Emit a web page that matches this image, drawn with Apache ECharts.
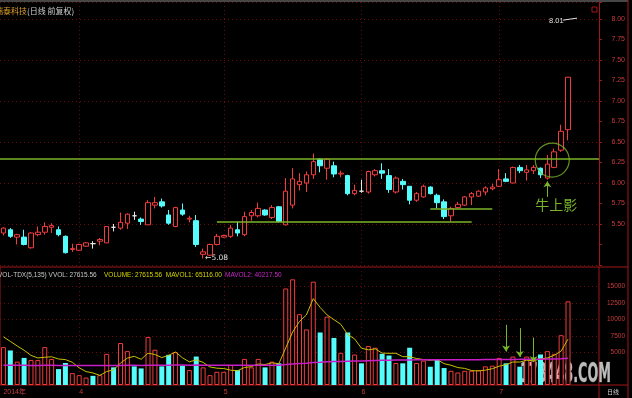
<!DOCTYPE html>
<html>
<head>
<meta charset="utf-8">
<script src="https://cdn.jsdelivr.net/npm/echarts@6/dist/echarts.min.js"></script>
<style>
  html, body { margin: 0; padding: 0; background: #000; }
  #chart { width: 632px; height: 398px; }
</style>
</head>
<body>
<div id="chart"></div>
<script>
// trading days, 2014-03-17 .. 2014-07-15
const marchDays = [17, 18, 19, 20, 21, 24, 25, 26, 27, 28, 31];
const aprilDays = [1, 2, 3, 4, 8, 9, 10, 11, 14, 15, 16, 17, 18, 21, 22, 23, 24, 25, 28, 29, 30];
const mayDays = [5, 6, 7, 8, 9, 12, 13, 14, 15, 16, 19, 20, 21, 22, 23, 26, 27, 28, 29, 30];
const juneDays = [3, 4, 5, 6, 9, 10, 11, 12, 13, 16, 17, 18, 19, 20, 23, 24, 25, 26, 27, 30];
const julyDays = [1, 2, 3, 4, 7, 8, 9, 10, 11, 14, 15];

const monthTicks = ["2014-03-17", "2014-04-01", "2014-05-05", "2014-06-03", "2014-07-01"];
const monthLabels = ["2014年", "4", "5", "6", "7"];

const opens = [
  5.39, 5.43, 5.34, 5.34, 5.21, 5.37, 5.40, 5.46, 5.43, 5.35,
  5.19, 5.18, 5.23, 5.26, 5.29, 5.27, 5.46, 5.45, 5.51, 5.60,
  5.56, 5.49, 5.73, 5.77, 5.61, 5.47, 5.67, 5.56, 5.54, 5.13,
  5.12, 5.25, 5.34, 5.35, 5.43, 5.37, 5.60, 5.60, 5.67, 5.58,
  5.71, 5.49, 5.73, 5.98, 6.00, 6.10, 6.29, 6.18, 6.21, 6.11,
  6.09, 5.87, 5.90, 5.89, 6.10, 6.15, 6.09, 5.89, 6.02, 5.96,
  5.79, 5.83, 5.95, 5.85, 5.77, 5.60, 5.70, 5.73, 5.83, 5.84,
  5.89, 5.93, 5.96, 6.05, 6.00, 6.19, 6.13, 6.15, 6.18, 6.06,
  6.19, 6.40, 6.65
];
const closes = [
  5.45, 5.35, 5.37, 5.25, 5.39, 5.40, 5.47, 5.48, 5.37, 5.15,
  5.20, 5.25, 5.27, 5.26, 5.31, 5.47, 5.46, 5.52, 5.62, 5.60,
  5.53, 5.76, 5.76, 5.72, 5.51, 5.70, 5.62, 5.57, 5.25, 5.16,
  5.25, 5.35, 5.36, 5.45, 5.39, 5.59, 5.64, 5.69, 5.61, 5.70,
  5.53, 5.90, 6.05, 6.02, 6.10, 6.26, 6.21, 6.29, 6.11, 6.12,
  5.87, 5.91, 5.90, 6.14, 6.15, 6.12, 5.92, 6.06, 5.98, 5.79,
  5.87, 5.96, 5.87, 5.76, 5.59, 5.69, 5.74, 5.83, 5.87, 5.90,
  5.94, 5.95, 6.04, 6.02, 6.19, 6.15, 6.16, 6.19, 6.10, 6.23,
  6.38, 6.63, 7.29
];
const lows = [
  5.36, 5.33, 5.25, 5.24, 5.20, 5.35, 5.37, 5.39, 5.35, 5.14,
  5.16, 5.17, 5.22, 5.20, 5.24, 5.27, 5.41, 5.43, 5.44, 5.55,
  5.49, 5.49, 5.69, 5.70, 5.49, 5.46, 5.60, 5.52, 5.22, 5.08,
  5.11, 5.24, 5.33, 5.33, 5.35, 5.35, 5.54, 5.58, 5.60, 5.56,
  5.52, 5.48, 5.69, 5.91, 5.89, 6.05, 6.13, 6.04, 6.07, 6.07,
  5.85, 5.85, 5.88, 5.87, 6.08, 6.05, 5.88, 5.87, 5.92, 5.74,
  5.77, 5.82, 5.86, 5.69, 5.56, 5.53, 5.69, 5.72, 5.73, 5.83,
  5.85, 5.91, 5.95, 6.01, 6.00, 6.12, 6.03, 6.11, 6.06, 6.04,
  6.18, 6.38, 6.52
];
const highs = [
  5.46, 5.45, 5.38, 5.43, 5.40, 5.47, 5.52, 5.51, 5.47, 5.36,
  5.26, 5.26, 5.28, 5.29, 5.33, 5.47, 5.50, 5.64, 5.63, 5.65,
  5.58, 5.79, 5.83, 5.81, 5.67, 5.71, 5.75, 5.60, 5.61, 5.20,
  5.26, 5.38, 5.37, 5.49, 5.53, 5.65, 5.67, 5.76, 5.68, 5.73,
  5.72, 6.06, 6.18, 6.12, 6.14, 6.36, 6.30, 6.30, 6.26, 6.15,
  6.10, 5.98, 6.04, 6.15, 6.17, 6.24, 6.17, 6.08, 6.05, 5.96,
  5.89, 5.98, 5.96, 5.87, 5.80, 5.71, 5.77, 5.84, 5.89, 5.91,
  5.96, 5.99, 6.17, 6.12, 6.20, 6.22, 6.22, 6.22, 6.19, 6.34,
  6.42, 6.71, 7.29
];
const volumes = [
  5780, 5270, 3565, 4135, 3825, 3825, 5780, 3980, 2430, 3360,
  1810, 1500, 1135, 1395, 1500, 4755, 2690, 6400, 5165, 2840,
  2530, 7330, 5375, 2840, 4600, 5010, 2945, 2275, 4340, 2690,
  1500, 2015, 2015, 3050, 2275, 3980, 2690, 3980, 2690, 3565,
  3305, 14725, 16120, 10800, 8475, 15760, 8010, 10430, 7180, 4910,
  8010, 4650, 3305, 5940, 5685, 4755, 4495, 3360, 3305, 5685,
  3360, 3720, 2790, 3825, 2585, 2170, 1910, 2170, 2170, 2275,
  2840, 2945, 4135, 3305, 4340, 2790, 4340, 3720, 4650, 5165,
  4755, 7595, 12760
];
const mavol1 = [
  7350, 6650, 5950, 5300, 4515, 4124, 4226, 4309, 3968, 3875,
  3472, 2616, 2047, 1840, 1468, 2057, 2295, 3348, 4102, 4370,
  3925, 4853, 4648, 4183, 4535, 5031, 4154, 3534, 3834, 3452,
  2750, 2564, 2512, 2254, 2171, 2667, 2802, 3195, 3123, 3381,
  3246, 5653, 8081, 9703, 10685, 13176, 11833, 10695, 9971, 9258,
  7708, 7036, 5611, 5363, 5518, 4867, 4836, 4847, 4320, 4320,
  4041, 3886, 3772, 3876, 3256, 3018, 2656, 2532, 2201, 2139,
  2273, 2480, 2873, 3100, 3513, 3503, 3782, 3699, 3968, 4133,
  4526, 5177, 6985
];
const mavol2 = [
  3000, 3000, 2995, 2995, 2990, 2990, 2995, 2995, 2990, 2990,
  2985, 2980, 2975, 2970, 2965, 2970, 2970, 2985, 2995, 2995,
  2990, 3010, 3020, 3020, 3025, 3035, 3035, 3030, 3035, 3030,
  3025, 3020, 3015, 3015, 3010, 3020, 3020, 3025, 3025, 3030,
  3030, 3120, 3220, 3280, 3330, 3430, 3470, 3530, 3570, 3590,
  3640, 3660, 3680, 3710, 3740, 3760, 3780, 3795, 3810, 3830,
  3840, 3850, 3855, 3865, 3870, 3870, 3870, 3870, 3870, 3870,
  3875, 3880, 3890, 3895, 3905, 3910, 3920, 3925, 3940, 3955,
  3970, 4010, 4080
];

// hand-drawn annotations: [index, price] / [index, from, to]
const pressureLine = 6.29;
const supportLine = [31, 68, 5.53];
const shortSupport = [62, 71, 5.69];
const upArrow = [79, 5.83, 6.02];
const circleAt = [80, 6.28];
const volArrows = [[73, 9180, 5100], [75, 8680, 4290], [77, 7240, 3480]];
const volGridLevels = [5000, 7500, 10000, 12500, 15000];
const lowMark = [29, 5.08];
const highMark = 8.01;

const UP = "#f03c3c";
const DOWN = "#54fcfc";
const FRAME = "#a01818";
const DOT = "#6a0c0c";
const DOT_TYPE = [1, 3];
const GREEN = "#7ab428";
const AXIS_TEXT = "#c83c3c";

const pad = (n) => (n < 10 ? `0${n}` : `${n}`);
const dates = [].concat(
  marchDays.map((d) => `2014-03-${pad(d)}`),
  aprilDays.map((d) => `2014-04-${pad(d)}`),
  mayDays.map((d) => `2014-05-${pad(d)}`),
  juneDays.map((d) => `2014-06-${pad(d)}`),
  julyDays.map((d) => `2014-07-${pad(d)}`)
);

const candleData = dates.map((d, i) => [opens[i], closes[i], lows[i], highs[i]]);
const isUp = (i) =>
  closes[i] > opens[i] || (closes[i] === opens[i] && i > 0 && closes[i] > closes[i - 1]);
const volData = volumes.map((v, i) => ({
  value: v,
  itemStyle: isUp(i)
    ? { color: "#000", borderColor: UP, borderWidth: 1 }
    : { color: DOWN, borderColor: DOWN, borderWidth: 0 }
}));

const isMonthLine = (i, v) => v !== monthTicks[0] && monthTicks.indexOf(v) >= 0;

const priceLabel = (v) => {
  const q = Math.round(v * 4);
  return Math.abs(v * 4 - q) < 1e-6 && v >= 5.5 && v <= 8.0001 ? v.toFixed(2) : "";
};
const volLabel = (v) => (v >= 5000 && v <= 15000 ? String(v) : "");

const xAxisBase = (gridIndex) => ({
  type: "category",
  gridIndex,
  data: dates,
  max: dates.length + 3,
  boundaryGap: true,
  axisLine: { show: false },
  axisTick: { show: false },
  splitLine: {
    show: true,
    interval: isMonthLine,
    alignWithLabel: true,
    lineStyle: { color: DOT, type: DOT_TYPE, width: 1 }
  }
});

const chart = echarts.init(document.getElementById("chart"), null, { renderer: "canvas" });

const option = {
  backgroundColor: "#000",
  animation: false,
  textStyle: { fontFamily: "Liberation Sans, Noto Sans CJK SC, sans-serif" },
  grid: [
    { left: -2, right: 33, top: 2, height: 263 },
    { left: -2, right: 33, top: 267, height: 118, show: true, borderColor: FRAME, borderWidth: 1 }
  ],
  xAxis: [
    Object.assign(xAxisBase(0), { axisLabel: { show: false } }),
    Object.assign(xAxisBase(1), {
      axisLabel: {
        show: true,
        interval: (i, v) => monthTicks.indexOf(v) >= 0,
        formatter: (v) => monthLabels[monthTicks.indexOf(v)] || "",
        color: AXIS_TEXT,
        fontSize: 7,
        align: "left",
        margin: 4
      }
    })
  ],
  yAxis: [
    {
      type: "value",
      gridIndex: 0,
      position: "right",
      min: 5,
      max: 8.207,
      interval: 0.25,
      axisLine: { show: true, lineStyle: { color: FRAME } },
      axisTick: { show: true, length: 3, lineStyle: { color: FRAME } },
      axisLabel: { color: AXIS_TEXT, fontSize: 7, align: "right", margin: 26, formatter: priceLabel },
      splitLine: { show: false }
    },
    {
      type: "value",
      gridIndex: 0,
      position: "left",
      min: 5,
      max: 8.207,
      interval: 0.5,
      axisLine: { show: false },
      axisTick: { show: false },
      axisLabel: { show: false },
      splitLine: { show: true, lineStyle: { color: DOT, type: DOT_TYPE, width: 1 } }
    },
    {
      type: "value",
      gridIndex: 1,
      position: "right",
      min: 0,
      max: 18000,
      interval: 2500,
      axisLine: { show: false },
      axisTick: { show: false },
      axisLabel: { color: AXIS_TEXT, fontSize: 6.5, align: "right", margin: 26, formatter: volLabel },
      splitLine: { show: false }
    }
  ],
  series: [
    {
      name: "K",
      type: "candlestick",
      xAxisIndex: 0,
      yAxisIndex: 0,
      data: candleData,
      barWidth: 5,
      itemStyle: {
        color: "#000",
        color0: DOWN,
        borderColor: UP,
        borderColor0: DOWN,
        borderColorDoji: "#e8e8e8",
        borderWidth: 1
      },
      markLine: {
        silent: true,
        animation: false,
        symbol: ["none", "none"],
        label: { show: false },
        lineStyle: { color: GREEN, width: 1.5, type: "solid" },
        data: [
          { yAxis: pressureLine },
          [
            { coord: [dates[supportLine[0]], supportLine[2]] },
            { coord: [dates[supportLine[1]], supportLine[2]] }
          ],
          [
            { coord: [dates[shortSupport[0]], shortSupport[2]] },
            { coord: [dates[shortSupport[1]], shortSupport[2]] }
          ],
          [
            { coord: [dates[upArrow[0]], upArrow[1]], symbol: "none", lineStyle: { width: 1 } },
            { coord: [dates[upArrow[0]], upArrow[2]], symbol: "arrow", symbolSize: 6 }
          ]
        ]
      }
    },
    {
      name: "circle",
      type: "scatter",
      xAxisIndex: 0,
      yAxisIndex: 0,
      silent: true,
      data: [[dates[circleAt[0]], circleAt[1]]],
      symbol: "circle",
      symbolSize: 34,
      symbolOffset: [-2, 0],
      itemStyle: { color: "rgba(0,0,0,0)", borderColor: GREEN, borderWidth: 1.2 }
    },
    {
      name: "VOLUME",
      type: "bar",
      xAxisIndex: 1,
      yAxisIndex: 2,
      data: volData,
      barWidth: 5,
      markLine: {
        silent: true,
        animation: false,
        symbol: ["none", "arrow"],
        symbolSize: 6,
        label: { show: false },
        lineStyle: { color: GREEN, width: 1, type: "solid" },
        data: volArrows.map(([i, from, to]) => [{ coord: [dates[i], from] }, { coord: [dates[i], to] }])
      }
    },
    {
      name: "MAVOL1",
      type: "line",
      xAxisIndex: 1,
      yAxisIndex: 2,
      data: mavol1,
      symbol: "none",
      z: 3,
      lineStyle: { color: "#c8c000", width: 1 }
    },
    {
      name: "MAVOL2",
      type: "line",
      xAxisIndex: 1,
      yAxisIndex: 2,
      data: mavol2,
      symbol: "none",
      z: 3,
      lineStyle: { color: "#c81ec8", width: 1.5 },
      markLine: {
        z: 1,
        silent: true,
        animation: false,
        symbol: ["none", "none"],
        label: { show: false },
        lineStyle: { color: DOT, type: DOT_TYPE, width: 1 },
        data: volGridLevels.map((v) => ({ yAxis: v }))
      }
    }
  ]
};

chart.setOption(option);

// annotations that follow the data
const lowPt = chart.convertToPixel({ xAxisIndex: 0, yAxisIndex: 0 }, [lowMark[0], lowMark[1]]);
const highPt = chart.convertToPixel({ xAxisIndex: 0, yAxisIndex: 0 }, [circleAt[0], highMark]);
const tagPt = chart.convertToPixel({ xAxisIndex: 0, yAxisIndex: 0 }, [upArrow[0], 5.73]);

const redLine = (x1, y1, x2, y2, color) => ({
  type: "line",
  silent: true,
  shape: { x1, y1, x2, y2 },
  style: { stroke: color || FRAME, lineWidth: 1 }
});

chart.setOption({
  graphic: [
    redLine(0, 1, 628, 1, "#8c8c8c"),
    redLine(628, 0, 628, 398),
    redLine(599, 267, 628, 267),
    redLine(599, 385, 628, 385),
    redLine(599, 385, 599, 398),
    { type: "rect", silent: true, shape: { x: 592, y: 7, width: 5, height: 5 }, style: { fill: "none", stroke: FRAME, lineWidth: 1 } },
    {
      type: "text",
      silent: true,
      x: -5,
      y: 11,
      style: {
        text: "{a|瑞泰科技}{b|(日线 前复权)}",
        verticalAlign: "middle",
        rich: {
          a: { fill: "#e0a030", fontSize: 8, fontFamily: "Noto Sans CJK SC" },
          b: { fill: "#d0d0d0", fontSize: 8, fontFamily: "Noto Sans CJK SC" }
        }
      }
    },
    {
      type: "text", silent: true, x: -2, y: 275,
      style: { text: "VOL-TDX(5,135) VVOL: 27615.56", fill: "#c8c8c8", fontSize: 6.5, fontFamily: "Liberation Sans", verticalAlign: "middle" }
    },
    {
      type: "text", silent: true, x: 104, y: 275,
      style: { text: "VOLUME: 27615.56  MAVOL1: 65116.00", fill: "#d4d400", fontSize: 6.5, fontFamily: "Liberation Sans", verticalAlign: "middle" }
    },
    {
      type: "text", silent: true, x: 225, y: 275,
      style: { text: "MAVOL2: 40217.50", fill: "#c828c8", fontSize: 6.5, fontFamily: "Liberation Sans", verticalAlign: "middle" }
    },
    {
      type: "text", silent: true, x: 607, y: 392,
      style: { text: "日线", fill: "#d0d0d0", fontSize: 6, fontFamily: "Noto Sans CJK SC", verticalAlign: "middle" }
    },
    {
      type: "text", silent: true, x: lowPt[0] + 2, y: lowPt[1],
      style: { text: "←5.08", fill: "#e0e0e0", fontSize: 7.5, fontFamily: "DejaVu Sans", verticalAlign: "middle" }
    },
    {
      type: "text", silent: true, x: 549, y: highPt[1] + 3,
      style: { text: "8.01", fill: "#e0e0e0", fontSize: 7.5, fontFamily: "Liberation Sans", verticalAlign: "middle" }
    },
    redLine(563, highPt[1] + 2, 577, highPt[1], "#e0e0e0"),
    {
      type: "text", silent: true, x: tagPt[0] + 9, y: tagPt[1],
      style: { text: "牛上影", fill: GREEN, fontSize: 14, fontFamily: "Noto Sans CJK SC", align: "center", verticalAlign: "middle" }
    },
    {
      type: "text", silent: true, x: 520, y: 375, scaleX: 0.49,
      style: {
        text: "178448.COM",
        fill: "rgba(220,220,220,0.85)",
        stroke: "rgba(70,70,70,0.8)",
        lineWidth: 1,
        fontSize: 26,
        fontWeight: "bold",
        fontFamily: "DejaVu Sans",
        verticalAlign: "middle"
      }
    }
  ]
});
</script>
</body>
</html>
